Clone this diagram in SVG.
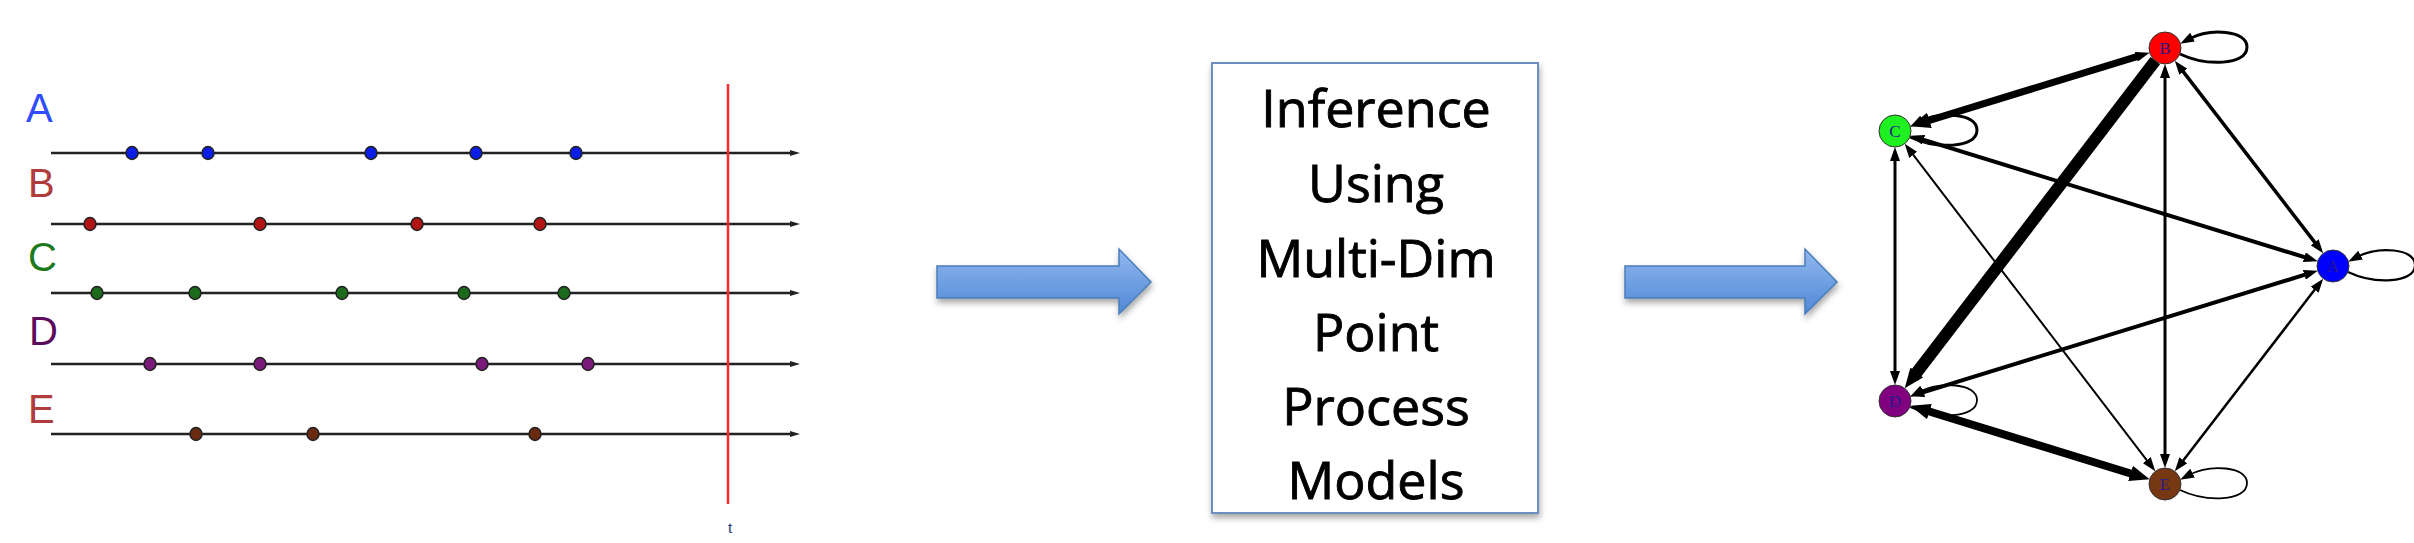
<svg xmlns="http://www.w3.org/2000/svg" width="2414" height="543" viewBox="0 0 2414 543">
<style>
.lbl{font-family:"Liberation Sans",Arial,sans-serif;font-size:40px}
.tl-halo{stroke:#c4c4c4;stroke-width:4;fill:none}
.tl{stroke:#222;stroke-width:1.8;fill:none}
.dot{stroke:#222;stroke-width:1.5}
.box-text{font-family:"Open Sans",Lato,sans-serif;font-size:52px;fill:#000;stroke:#000;stroke-width:0.9;text-anchor:middle}
.bigarrow{fill:url(#blueGrad);stroke:#4a7ebb;stroke-width:1.5}
.edge{stroke:#000;fill:none}
.node{stroke:#333;stroke-width:1}
.nlabel{font-family:"Liberation Serif","Times New Roman",serif;font-size:17px;fill:#2a1a8a;text-anchor:middle}
</style>
<defs>
<linearGradient id="blueGrad" x1="0" y1="0" x2="0" y2="1">
<stop offset="0" stop-color="#92b8f0"/>
<stop offset="1" stop-color="#4f88d4"/>
</linearGradient>
<filter id="shadow" x="-10%" y="-10%" width="130%" height="130%">
<feDropShadow dx="1" dy="4" stdDeviation="3" flood-color="#000" flood-opacity="0.35"/>
</filter>
<marker id="tlArrow" viewBox="0 0 10 6" markerWidth="10" markerHeight="6" refX="2" refY="3" orient="auto" markerUnits="userSpaceOnUse">
<path d="M0,0 L10,3 L0,6 z" fill="#222"/>
</marker>
<marker id="ah" viewBox="0 0 14 10" markerWidth="14" markerHeight="10" refX="4" refY="5" orient="auto-start-reverse" markerUnits="userSpaceOnUse">
<path d="M0,0 L14,5 L0,10 z" fill="#000"/>
</marker>
<marker id="ahb" viewBox="0 0 20 16" markerWidth="20" markerHeight="16" refX="6" refY="8" orient="auto-start-reverse" markerUnits="userSpaceOnUse">
<path d="M0,0 L20,8 L0,16 z" fill="#000"/>
</marker>
</defs>
<rect width="2414" height="543" fill="#fff"/>

<!-- Left panel: timelines -->
<g id="timelines">
<text class="lbl" x="26" y="122" fill="#2f4cff">A</text>
<text class="lbl" x="28" y="197" fill="#b03c3c">B</text>
<text class="lbl" x="28" y="271" fill="#1c7a1c">C</text>
<text class="lbl" x="29" y="345" fill="#5c0c5c">D</text>
<text class="lbl" x="28" y="423" fill="#b03c3c">E</text>

<g id="line-A">
<line class="tl-halo" x1="51" y1="153" x2="792" y2="153"/>
<line class="tl" x1="51" y1="153" x2="792" y2="153" marker-end="url(#tlArrow)"/>
<g fill="#0a1ee6" class="dot">
<ellipse cx="132" cy="153" rx="6" ry="6.5"/><ellipse cx="208" cy="153" rx="6" ry="6.5"/><ellipse cx="371" cy="153" rx="6" ry="6.5"/><ellipse cx="476" cy="153" rx="6" ry="6.5"/><ellipse cx="576" cy="153" rx="6" ry="6.5"/>
</g>
</g>
<g id="line-B">
<line class="tl-halo" x1="51" y1="224" x2="792" y2="224"/>
<line class="tl" x1="51" y1="224" x2="792" y2="224" marker-end="url(#tlArrow)"/>
<g fill="#b01414" class="dot">
<ellipse cx="90" cy="224" rx="6" ry="6.5"/><ellipse cx="260" cy="224" rx="6" ry="6.5"/><ellipse cx="417" cy="224" rx="6" ry="6.5"/><ellipse cx="540" cy="224" rx="6" ry="6.5"/>
</g>
</g>
<g id="line-C">
<line class="tl-halo" x1="51" y1="293" x2="792" y2="293"/>
<line class="tl" x1="51" y1="293" x2="792" y2="293" marker-end="url(#tlArrow)"/>
<g fill="#1c6a1c" class="dot">
<ellipse cx="97" cy="293" rx="6" ry="6.5"/><ellipse cx="195" cy="293" rx="6" ry="6.5"/><ellipse cx="342" cy="293" rx="6" ry="6.5"/><ellipse cx="464" cy="293" rx="6" ry="6.5"/><ellipse cx="564" cy="293" rx="6" ry="6.5"/>
</g>
</g>
<g id="line-D">
<line class="tl-halo" x1="51" y1="364" x2="792" y2="364"/>
<line class="tl" x1="51" y1="364" x2="792" y2="364" marker-end="url(#tlArrow)"/>
<g fill="#7a1a7a" class="dot">
<ellipse cx="150" cy="364" rx="6" ry="6.5"/><ellipse cx="260" cy="364" rx="6" ry="6.5"/><ellipse cx="482" cy="364" rx="6" ry="6.5"/><ellipse cx="588" cy="364" rx="6" ry="6.5"/>
</g>
</g>
<g id="line-E">
<line class="tl-halo" x1="51" y1="434" x2="792" y2="434"/>
<line class="tl" x1="51" y1="434" x2="792" y2="434" marker-end="url(#tlArrow)"/>
<g fill="#6a2a10" class="dot">
<ellipse cx="196" cy="434" rx="6" ry="6.5"/><ellipse cx="313" cy="434" rx="6" ry="6.5"/><ellipse cx="535" cy="434" rx="6" ry="6.5"/>
</g>
</g>
<line id="time-marker" x1="728" y1="84" x2="728" y2="504" stroke="#ff2a2a" stroke-width="2.5"/>
<text x="730" y="533" font-family="'Liberation Sans',Arial,sans-serif" font-size="15" fill="#2a3a7a" text-anchor="middle">t</text>
</g>

<!-- Block arrows -->
<g id="arrow-1">
<polygon class="bigarrow" filter="url(#shadow)" points="937,266 1119,266 1119,249 1151,282 1119,314 1119,298 937,298"/>
</g>
<g id="arrow-2">
<polygon class="bigarrow" filter="url(#shadow)" points="1625,266 1805,266 1805,249 1837,282 1805,314 1805,298 1625,298"/>
</g>

<!-- Inference box -->
<g id="inference-box">
<rect x="1212" y="63" width="326" height="450" fill="#fff" stroke="#6d8fc0" stroke-width="2" filter="url(#shadow)"/>
<text class="box-text" x="1376" y="127">Inference</text>
<text class="box-text" x="1376" y="202">Using</text>
<text class="box-text" x="1376" y="277">Multi-Dim</text>
<text class="box-text" x="1376" y="351">Point</text>
<text class="box-text" x="1376" y="425">Process</text>
<text class="box-text" x="1376" y="499">Models</text>
</g>

<!-- Graph connectors -->
<g id="connectors">
<line class="edge" stroke-width="7" x1="2140.1" y1="55.6" x2="1923.7" y2="122.2" marker-start="url(#ah)" marker-end="url(#ahb)"/>
<line class="edge" stroke-width="12" x1="2155.3" y1="60.7" x2="1913.2" y2="377.2" marker-end="url(#ahb)"/>
<line class="edge" stroke-width="3" x1="2165" y1="74" x2="2165" y2="458" marker-start="url(#ah)" marker-end="url(#ah)"/>
<line class="edge" stroke-width="3.5" x1="2180.9" y1="68.6" x2="2317.1" y2="245.4" marker-start="url(#ah)" marker-end="url(#ah)"/>
<line class="edge" stroke-width="4" x1="1919.8" y1="138.7" x2="2308.2" y2="258.3" marker-start="url(#ah)" marker-end="url(#ah)"/>
<line class="edge" stroke-width="3" x1="1895" y1="157" x2="1895" y2="375" marker-start="url(#ah)" marker-end="url(#ah)"/>
<line class="edge" stroke-width="2" x1="1910.8" y1="151.7" x2="2149.2" y2="463.3" marker-start="url(#ah)" marker-end="url(#ah)"/>
<line class="edge" stroke-width="4" x1="1919.8" y1="393.3" x2="2308.2" y2="273.7" marker-start="url(#ah)" marker-end="url(#ah)"/>
<line class="edge" stroke-width="8" x1="1923.7" y1="409.8" x2="2136.3" y2="475.2" marker-start="url(#ahb)" marker-end="url(#ahb)"/>
<line class="edge" stroke-width="2.5" x1="2317.1" y1="286.6" x2="2180.9" y2="463.4" marker-start="url(#ah)" marker-end="url(#ah)"/>
<path class="edge" stroke-width="3" transform="translate(2165,48)" d="M15,6 C40,18 82,18 82,-1 C82,-18 45,-20 24,-9" marker-end="url(#ah)"/>
<path class="edge" stroke-width="3" transform="translate(1895,131)" d="M15,6 C40,18 82,18 82,-1 C82,-18 45,-20 24,-9" marker-end="url(#ah)"/>
<path class="edge" stroke-width="2.2" transform="translate(2333,266)" d="M15,6 C40,18 82,18 82,-1 C82,-18 45,-20 24,-9" marker-end="url(#ah)"/>
<path class="edge" stroke-width="1.8" transform="translate(1895,401)" d="M15,6 C40,18 82,18 82,-1 C82,-18 45,-20 24,-9" marker-end="url(#ah)"/>
<path class="edge" stroke-width="1.8" transform="translate(2165,484)" d="M15,6 C40,18 82,18 82,-1 C82,-18 45,-20 24,-9" marker-end="url(#ah)"/>
</g>

<!-- Graph nodes -->
<g id="node-B"><circle class="node" cx="2165" cy="48" r="16" fill="#ff0000"/><text class="nlabel" x="2165" y="54">B</text></g>
<g id="node-C"><circle class="node" cx="1895" cy="131" r="16" fill="#1ff01f"/><text class="nlabel" x="1895" y="137">C</text></g>
<g id="node-A"><circle class="node" cx="2333" cy="266" r="16" fill="#0000ff"/><text class="nlabel" x="2333" y="272">A</text></g>
<g id="node-D"><circle class="node" cx="1895" cy="401" r="16" fill="#800080"/><text class="nlabel" x="1895" y="407">D</text></g>
<g id="node-E"><circle class="node" cx="2165" cy="484" r="16" fill="#763812"/><text class="nlabel" x="2165" y="490">E</text></g>
</svg>
